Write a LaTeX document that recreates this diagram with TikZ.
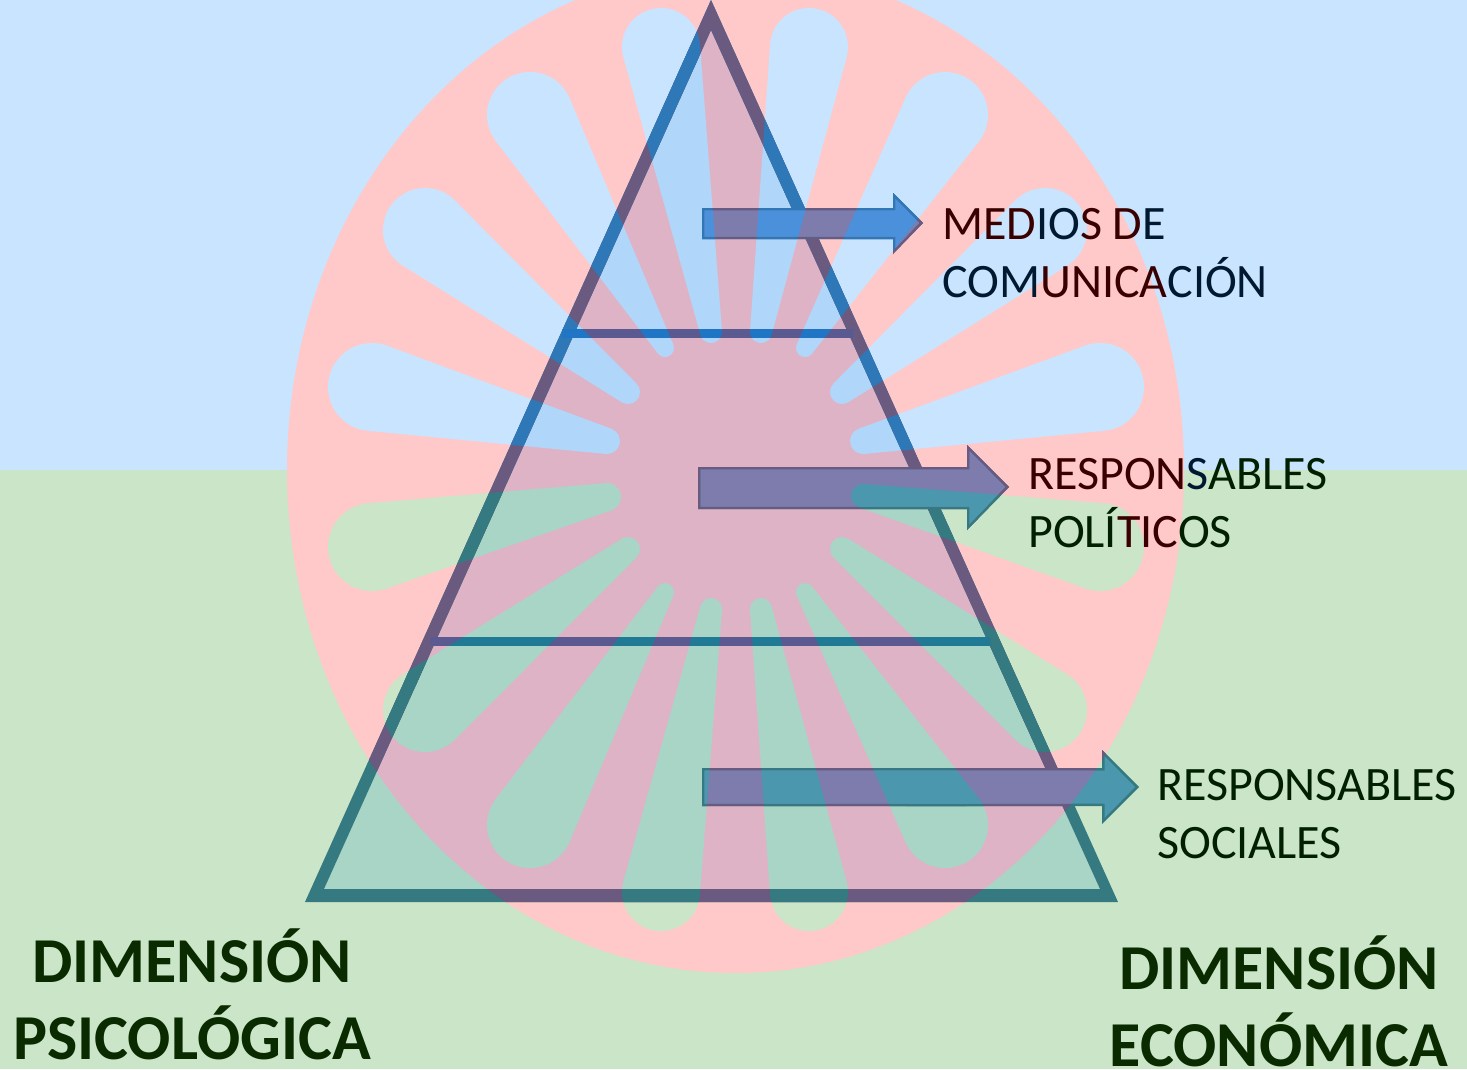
\documentclass[tikz,border=0pt]{standalone}
\usepackage{fontspec}
\setmainfont{Carlito}
\definecolor{bgB}{HTML}{C9E4FF}
\definecolor{bgG}{HTML}{CBE5C8}
\definecolor{bgP}{HTML}{FFC9C9}
\definecolor{inB}{HTML}{B0D6FA}
\definecolor{inG}{HTML}{A8D5C6}
\definecolor{inP}{HTML}{DFB3C6}
\definecolor{stB}{HTML}{2F78B8}
\definecolor{stG}{HTML}{357A80}
\definecolor{stP}{HTML}{6A5A80}
\definecolor{liB}{HTML}{2075C5}
\definecolor{liG}{HTML}{207A95}
\definecolor{liP}{HTML}{5A5A90}
\definecolor{arB}{HTML}{4A90DA}
\definecolor{arG}{HTML}{4A97AE}
\definecolor{arP}{HTML}{7E7CAC}
\definecolor{tR}{HTML}{3A0000}
\definecolor{tB}{HTML}{001830}
\definecolor{tG}{HTML}{002000}
\definecolor{tD}{HTML}{0A2A00}
\newcommand{\spokes}[2]{%
  \foreach \xa/\ya/\ra/\xb/\yb/\rb in {#2}{%
    \pgfmathsetmacro\ang{atan2(\yb-\ya,\xb-\xa)}%
    \pgfmathsetmacro\dd{veclen(\xb-\xa,\yb-\ya)}%
    \pgfmathsetmacro\bet{acos((\ra-\rb)/\dd)}%
    \fill[#1] ([shift={(\ang+\bet:\ra)}]\xa,\ya) -- ([shift={(\ang+\bet:\rb)}]\xb,\yb)
      -- ([shift={(\ang-\bet:\rb)}]\xb,\yb) -- ([shift={(\ang-\bet:\ra)}]\xa,\ya) -- cycle;
    \fill[#1] (\xa,\ya) circle[radius=\ra];
    \fill[#1] (\xb,\yb) circle[radius=\rb];
  }}
% flag painted in three colours: sky, grass, wheel
\newcommand{\flag}[3]{%
  \fill[#1] (0,0) rectangle (1467,470);
  \fill[#2] (0,470) rectangle (1467,1069);
  \fill[#3] (735.5,470) ellipse[x radius=448.5,y radius=503];
  \spokes{#1}{372/387/44/607/441/13, 425/230/42/628/392/12, 530/115/43/665/348/9, 661/47/39/711/332/11,
    809/47/39/761/332/11, 945/115/43/805/348/9, 1045/230/42/842/392/12, 1100/387/44/863/441/13}
  \spokes{#2}{372/547/44/607/497/14, 425/710/42/628/549/12, 530/825/43/665/592/9, 661/892/39/711/609/11,
    809/892/39/761/609/11, 945/825/43/805/592/9, 1045/710/42/842/549/12, 1100/547/44/863/496/12}
}
% block arrow: left, head x, tip x, body top, body bottom, head top, head bottom, mid y
\newcommand{\blockarrow}[8]{%
  \begin{scope}
    \clip (#1,#4) -- (#2,#4) -- (#2,#6) -- (#3,#8) -- (#2,#7) -- (#2,#5) -- (#1,#5) -- cycle;
    \flag{stB}{stG}{stP}
  \end{scope}
  \begin{scope}
    \pgfmathsetmacro\aL{#1+2.5}\pgfmathsetmacro\aT{#4+2.5}\pgfmathsetmacro\aB{#5-2.5}
    \pgfmathsetmacro\aH{#2+2.5}\pgfmathsetmacro\aU{#6+6}\pgfmathsetmacro\aD{#7-6}\pgfmathsetmacro\aX{#3-4}
    \clip (\aL,\aT) -- (\aH,\aT) -- (\aH,\aU) -- (\aX,#8) -- (\aH,\aD) -- (\aH,\aB) -- (\aL,\aB) -- cycle;
    \flag{arB}{arG}{arP}
  \end{scope}
}
\newcommand{\cR}[1]{\textcolor{tR}{#1}}
\newcommand{\cB}[1]{\textcolor{tB}{#1}}
\newcommand{\cG}[1]{\textcolor{tG}{#1}}
\tikzset{lab/.style={anchor=west,align=left,font=\fontsize{48}{58}\selectfont,inner sep=0pt},
  dim/.style={align=center,font=\fontsize{64}{77}\selectfont\bfseries,text=tD,inner sep=0pt}}
\begin{document}
\begin{tikzpicture}[x=1pt,y=-1pt]
\useasboundingbox (0,0) rectangle (1467,1069);
\flag{bgB}{bgG}{bgP}
% pyramid interior
\begin{scope}
  \clip (711,30) -- (1100,889) -- (324,889) -- cycle;
  \flag{inB}{inG}{inP}
\end{scope}
% pyramid outline
\begin{scope}
  \clip (711,0) -- (1118,902) -- (305,902) -- cycle (711,30) -- (324,889) -- (1100,889) -- cycle;
  \flag{stB}{stG}{stP}
\end{scope}
% level lines
\begin{scope}
  \clip (562,329) rectangle (853,337);
  \flag{liB}{liG}{liP}
\end{scope}
\begin{scope}
  \clip (430,637) rectangle (990,645);
  \flag{liB}{liG}{liP}
\end{scope}
\blockarrow{702}{893}{923}{208}{239}{193}{254}{223}
\blockarrow{698}{967}{1009}{467}{509}{445}{530}{487}
\blockarrow{702}{1102}{1139}{768}{806}{750}{824}{787}
\node[lab] (medios) at (942,253) {\cR{MED}\cB{IO}\cR{S D}\cB{E}\\\cB{COM}\cR{UNICA}\cB{CIÓN}};
\node[lab] (politicos) at (1028,503) {\cR{RESPON}\cB{S}\cG{ABLES}\\\cG{POLÍ}\cR{TIC}\cG{OS}};
\node[lab,text=tG] (sociales) at (1157,814) {RESPONSABLES\\SOCIALES};
\node[dim] (psico) at (192,994.5) {DIMENSIÓN\\PSICOLÓGICA};
\node[dim] (econo) at (1279,1001.5) {DIMENSIÓN\\ECONÓMICA};
\end{tikzpicture}
\end{document}
